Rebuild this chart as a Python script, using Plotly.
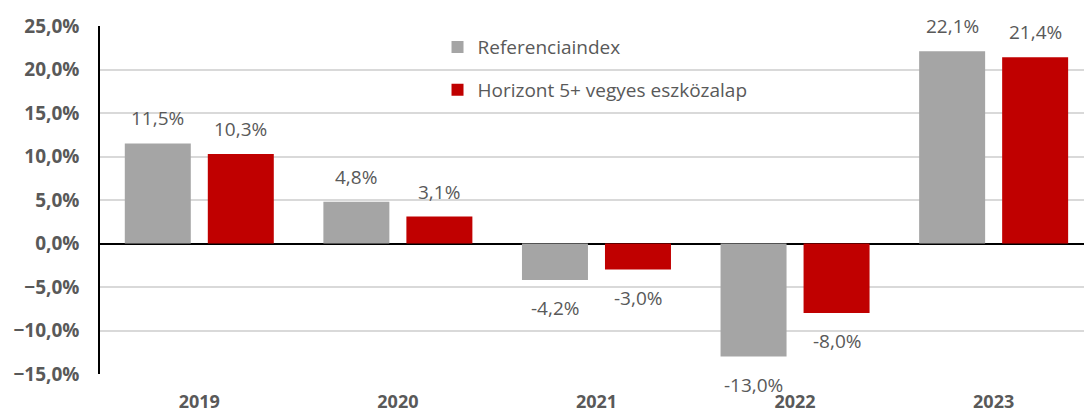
import plotly.graph_objects as go

years = ["2019", "2020", "2021", "2022", "2023"]
referencia = [0.115, 0.048, -0.042, -0.130, 0.221]
horizont = [0.103, 0.031, -0.030, -0.080, 0.214]
series_names = ["Referenciaindex", "Horizont 5+ vegyes eszközalap"]
colors = ["#a5a5a5", "#c00000"]

FONT = "Open Sans"
TXT = "#595959"

fig = go.Figure()
for i, (name, vals, col) in enumerate(zip(series_names, [referencia, horizont], colors)):
    fig.add_trace(go.Bar(
        x=years, y=vals, name=name, marker=dict(color=col, line=dict(width=0)),
        legendgroup=f"g{i}",
    ))

bargap = 0.164
bargroupgap = 0.205
slot = (1 - bargap) / 2
annotations = []
for i, vals in enumerate([referencia, horizont]):
    off = (i - 0.5) * slot
    for j, v in enumerate(vals):
        annotations.append(dict(
            x=j + off, y=v, xref="x", yref="y",
            text=f"{v*100:.1f}%".replace(".", ","),
            showarrow=False, yanchor="middle",
            yshift=25 if v >= 0 else -28,
            font=dict(family=FONT, size=19, color=TXT),
        ))

fig.update_layout(
    width=1084, height=414,
    margin=dict(l=100, r=0, t=26, b=40),
    paper_bgcolor="white", plot_bgcolor="white",
    barmode="group", bargap=bargap, bargroupgap=bargroupgap,
    separators=", ",
    showlegend=True,
    legend=dict(
        x=0.343, y=0.994, xanchor="left", yanchor="top",
        bgcolor="rgba(0,0,0,0)", traceorder="grouped", tracegroupgap=15,
        font=dict(family=FONT, size=19, color=TXT),
    ),
    annotations=annotations,
    xaxis=dict(
        type="category", range=[-0.5, 4.455], automargin=False,
        showgrid=False, showline=False, ticks="",
        tickfont=dict(family=FONT, size=18, color=TXT, weight="bold"),
        ticklabelstandoff=15,
    ),
    yaxis=dict(
        range=[-0.15, 0.25], dtick=0.05, tickformat=".1%", automargin=False,
        showgrid=True, gridcolor="#d9d9d9", gridwidth=1.5,
        zeroline=True, zerolinecolor="black", zerolinewidth=1.5,
        showline=True, linecolor="black", linewidth=1.5,
        ticks="", ticklabelstandoff=15,
        tickfont=dict(family=FONT, size=19, color=TXT, weight="bold"),
    ),
)

fig.write_html("out.html", config={"displayModeBar": False},
               post_script="document.body.style.margin='0';")
